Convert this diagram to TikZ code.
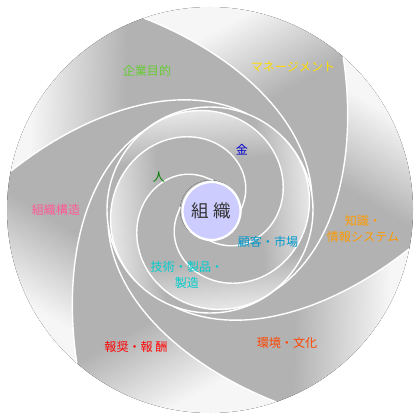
\documentclass[tikz,border=0pt]{standalone}
\usepackage{fontspec}
\newfontfamily\jp{Noto Sans CJK JP}
\definecolor{bladegray}{RGB}{178,178,178}
\definecolor{bladelight}{RGB}{246,246,246}
\definecolor{corefill}{RGB}{204,204,255}
\pgfdeclareverticalshading{bladeshade}{100bp}{color(0bp)=(bladegray); color(56bp)=(bladegray); color(72bp)=(bladelight); color(100bp)=(bladelight)}
\pgfdeclareverticalshading{coreshade}{100bp}{color(0bp)=(bladegray); color(60bp)=(bladegray); color(76bp)=(bladelight!85!bladegray); color(100bp)=(bladelight)}
\tikzset{
  edge/.style={draw=white, line width=1pt},
  lbl/.style={font=\jp\fontsize{8.6}{11}\selectfont, align=center, inner sep=0pt},
  core/.style={circle, fill=corefill, draw=white, line width=1.6pt, minimum size=1.45cm, inner sep=0pt, text=black!80,
    font=\jp\fontsize{12.5}{14}\selectfont}
}
\begin{document}
\begin{tikzpicture}[x=0.025cm,y=0.025cm]
   \useasboundingbox (-210,-210) rectangle (210,210);
   \fill[bladegray] (0,0) circle[radius=202.5];
   % outer ring, six blades
   \foreach \a in {169,109,49,-11,-71,-131}{
     \pgfmathsetmacro\sa{\a-20}
     \fill[shading=bladeshade, shading angle=\sa]
       plot[domain=0:120, samples=50, variable=\t] ({\a-\t}:{97+106*exp(-\t/35)})
       -- (\a-120:92) arc[start angle=\a-120, end angle=\a-60, radius=92] -- (\a-60:100.4)
       -- plot[domain=120:0, samples=50, variable=\t] ({\a+60-\t}:{97+106*exp(-\t/35)})
       arc[start angle=\a+60, end angle=\a, radius=203] -- cycle;
   }
   % inner ring, four blades
   \foreach \p in {134,44,-46,-136}{
     \pgfmathsetmacro\sa{\p-130}
     \fill[shading=coreshade, shading angle=\sa]
       plot[domain=0:230, samples=70, variable=\t] ({\p-\t}:{30+73*(1-(\t/230)^2)^1.5})
       arc[start angle=\p-230, end angle=\p-140, radius=30]
       -- plot[domain=230:0, samples=70, variable=\t] ({\p+90-\t}:{30+73*(1-(\t/230)^2)^1.5})
       arc[start angle=\p+90, end angle=\p, radius=103] -- cycle;
   }
   \foreach \a in {169,109,49,-11,-71,-131}
     \draw[edge] plot[domain=0:100, samples=50, variable=\t] ({\a-\t}:{97+106*exp(-\t/35)});
   \draw[edge] (0,0) circle[radius=103];
   \foreach \p in {134,44,-46,-136}
     \draw[edge] plot[domain=0:230, samples=70, variable=\t] ({\p-\t}:{30+73*(1-(\t/230)^2)^1.5});

   \node[core] (core) at (1.5,-1) {組 織};

   \node[lbl, text={rgb,255:red,102;green,204;blue,51}] (kigyo) at (-63,139) {企業目的};
   \node[lbl, text={rgb,255:red,255;green,220;blue,0}] (manage) at (83,143) {マネージメント};
   \node[lbl, text={rgb,255:red,0;green,0;blue,204}] (kane) at (32,60) {金};
   \node[lbl, text={rgb,255:red,0;green,128;blue,0}] (hito) at (-51,33) {人};
   \node[lbl, text={rgb,255:red,255;green,90;blue,150}] (soshiki) at (-154,0) {組織構造};
   \node[lbl, text={rgb,255:red,255;green,153;blue,0}] (chishiki) at (153,-19) {知識・\\情報システム};
   \node[lbl, text={rgb,255:red,0;green,153;blue,204}] (kokyaku) at (58,-32) {顧客・市場};
   \node[lbl, text={rgb,255:red,0;green,204;blue,204}] (gijutsu) at (-23,-65) {技術・製品・\\製造};
   \node[lbl, text={rgb,255:red,255;green,0;blue,0}] (hosho) at (-74,-137) {報奨・報 酬};
   \node[lbl, text={rgb,255:red,255;green,68;blue,0}] (kankyo) at (77,-133) {環境・文化};
\end{tikzpicture}
\end{document}
